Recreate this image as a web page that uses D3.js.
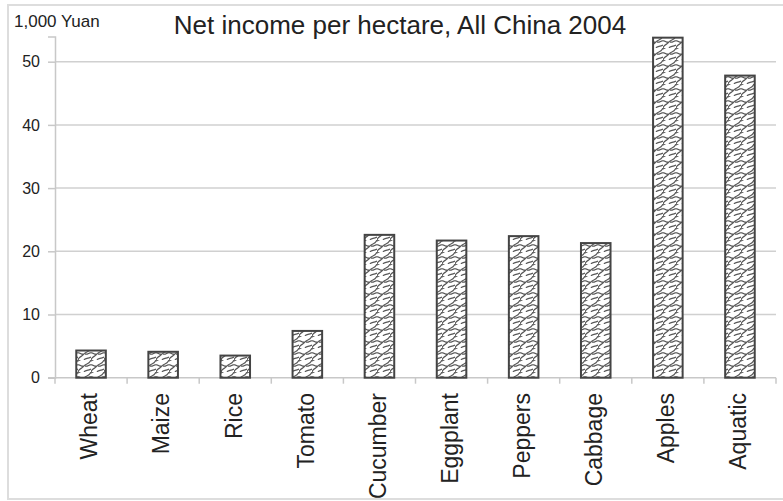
<!DOCTYPE html>
<html>
<head>
<meta charset="utf-8">
<script src="https://cdn.jsdelivr.net/npm/d3@7"></script>
<style>
  body { margin: 0; background: #fff; }
  text { font-family: "Liberation Sans", Arial, sans-serif; fill: #222; }
</style>
</head>
<body>
<div id="chart"></div>
<script>
var crops = ["Wheat", "Maize", "Rice", "Tomato", "Cucumber", "Eggplant", "Peppers", "Cabbage", "Apples", "Aquatic"];
var income = [4.3, 4.1, 3.5, 7.4, 22.6, 21.7, 22.4, 21.3, 53.8, 47.8];
var yTicks = [0, 10, 20, 30, 40, 50];
var titleText = "Net income per hectare, All China 2004";
var unitText = "1,000 Yuan";

var width = 783,
    height = 501;

var svg = d3.select("#chart").append("svg")
    .attr("width", width)
    .attr("height", height);

// wavy "shingle" fill for the bars
var defs = svg.append("defs");
var pat = defs.append("pattern")
    .attr("id", "weave")
    .attr("patternUnits", "userSpaceOnUse")
    .attr("width", 13)
    .attr("height", 12);
pat.append("rect").attr("width", 13).attr("height", 12).attr("fill", "#fff");
pat.append("path")
    .attr("d", "M0,12 C1,8 4,9 6,6 C8,3 11,5 13,0 " +
               "M0,5 C2,4 3,7 6,6 M6,12 C7,10 10,11 13,9 " +
               "M-1,2 C0,0 2,1 3,-1 M13,5 C11,4 10,7 7,6")
    .attr("fill", "none")
    .attr("stroke", "#555")
    .attr("stroke-width", 1.2);

// outer frame
svg.append("rect")
    .attr("x", 8).attr("y", 5)
    .attr("width", 790).attr("height", 494)
    .attr("fill", "none")
    .attr("stroke", "#ddd")
    .attr("stroke-width", 2);

var x = d3.scaleBand()
    .domain(crops)
    .range([55, 776])
    .padding(0);

var y = d3.scaleLinear()
    .domain([0, 54])
    .range([377.7, 36.4]);

var barW = x.bandwidth() * 0.41;

// gridlines
svg.append("g")
    .selectAll("line")
    .data(yTicks.filter(function(d) { return d > 0; }))
    .enter().append("line")
    .attr("x1", 55).attr("x2", 776)
    .attr("y1", function(d) { return y(d); })
    .attr("y2", function(d) { return y(d); })
    .attr("stroke", "#d0d0d0")
    .attr("stroke-width", 1.5);

// y axis
var yAxis = svg.append("g")
    .attr("transform", "translate(55,0)")
    .call(d3.axisLeft(y).tickValues(yTicks).tickSize(7).tickPadding(8).tickFormat(d3.format("d")));
yAxis.select(".domain").attr("stroke", "#c8c8c8").attr("stroke-width", 1.5);
yAxis.selectAll(".tick line").attr("stroke", "#c8c8c8").attr("stroke-width", 1.5);
yAxis.selectAll(".tick text")
    .style("font-size", "16px")
    .style("font-family", "Liberation Sans, Arial, sans-serif")
    .attr("fill", "#222");

// x axis line + boundary ticks
svg.append("line")
    .attr("x1", 48).attr("x2", 776)
    .attr("y1", y(0)).attr("y2", y(0))
    .attr("stroke", "#c8c8c8")
    .attr("stroke-width", 1.5);
svg.append("line")
    .attr("x1", 55).attr("x2", 55)
    .attr("y1", y(0)).attr("y2", y(0) + 6)
    .attr("stroke", "#c8c8c8")
    .attr("stroke-width", 1.5);
svg.append("g")
    .selectAll("line")
    .data(crops)
    .enter().append("line")
    .attr("x1", function(d) { return x(d) + x.bandwidth(); })
    .attr("x2", function(d) { return x(d) + x.bandwidth(); })
    .attr("y1", y(0)).attr("y2", y(0) + 6)
    .attr("stroke", "#c8c8c8")
    .attr("stroke-width", 1.5);

// bars
svg.append("g")
    .selectAll("rect")
    .data(crops)
    .enter().append("rect")
    .attr("x", function(d) { return x(d) + (x.bandwidth() - barW) / 2; })
    .attr("width", barW)
    .attr("y", function(d, i) { return y(income[i]); })
    .attr("height", function(d, i) { return y(0) - y(income[i]); })
    .attr("fill", "url(#weave)")
    .attr("stroke", "#444")
    .attr("stroke-width", 2);

// category labels
svg.append("g")
    .selectAll("text")
    .data(crops)
    .enter().append("text")
    .attr("transform", function(d) {
        return "translate(" + (x(d) + x.bandwidth() / 2 - 2) + "," + 393 + ") rotate(-90)";
    })
    .attr("dy", "0.36em")
    .attr("text-anchor", "end")
    .style("font-size", "23px")
    .text(function(d) { return d; });

// titles
svg.append("text")
    .attr("x", 400).attr("y", 34)
    .attr("text-anchor", "middle")
    .style("font-size", "26px")
    .text(titleText);

svg.append("text")
    .attr("x", 14).attr("y", 26.5)
    .style("font-size", "17px")
    .text(unitText);
</script>
</body>
</html>
